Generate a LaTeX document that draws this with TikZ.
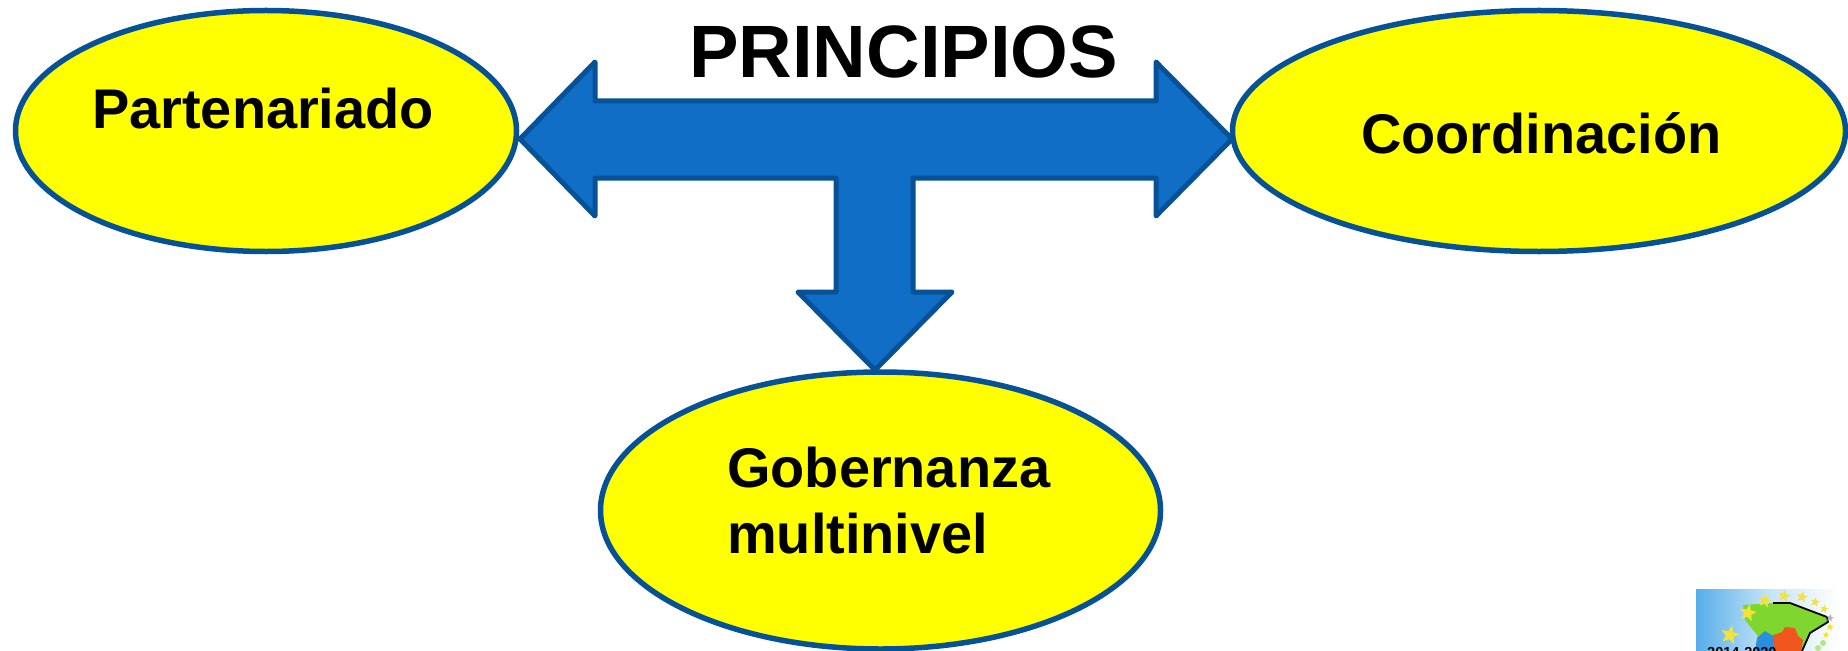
\documentclass[tikz,border=0pt]{standalone}
\usepackage{fontspec}
\setmainfont{Liberation Sans}
\usetikzlibrary{shapes.geometric,shapes.misc}
\definecolor{edgeblue}{HTML}{075296}
\definecolor{fillblue}{HTML}{116EC6}
\definecolor{yel}{HTML}{FFFF00}
\definecolor{skyb}{HTML}{55AEEA}
\definecolor{logogreen}{HTML}{7FD62E}
\definecolor{logoorange}{HTML}{F0561E}
\definecolor{logoblue}{HTML}{2A8FDC}
\definecolor{logostarc}{HTML}{F2E23A}
\tikzset{
 x=1bp,y=-1bp,
 oval/.style={ellipse,draw=edgeblue,line width=5.5bp,fill=yel,inner sep=0pt,outer sep=0pt},
 lab/.style={anchor=base west,inner sep=0pt,font=\fontsize{55.9bp}{66bp}\selectfont\bfseries},
 title/.style={anchor=base west,inner sep=0pt,font=\fontsize{74.2bp}{80bp}\selectfont\bfseries},
 arrowshape/.style={draw=edgeblue,line width=5bp,fill=fillblue,line join=round},
 logostar/.style={star,star points=5,star point ratio=2.4,fill=#1,inner sep=0pt,draw=none,rotate=-12},
}
\begin{document}
\begin{tikzpicture}
\useasboundingbox (0,0) rectangle (1848,651);
\fill[white] (0,0) rectangle (1848,651);
\node[oval,minimum width=501bp,minimum height=241bp] (part) at (266,131) {};
\node[oval,minimum width=613bp,minimum height=241bp] (coord) at (1539,131) {};
\node[oval,minimum width=560bp,minimum height=277bp] (gob) at (880.5,510.5) {};
\draw[arrowshape] (520,139) -- (595,62) -- (595,101) -- (1156,101) -- (1156,62) -- (1232,139)
  -- (1156,216) -- (1156,178) -- (913,178) -- (913,292) -- (952,292) -- (875,370)
  -- (798,292) -- (836,292) -- (836,178) -- (595,178) -- (595,216) -- cycle;
\node[title] (t) at (689,78) {PRINCIPIOS};
\node[lab] (l1) at (92,129) {Partenariado};
\node[lab] (l2) at (1361,154) {Coordinación};
\node[lab] (l3) at (727,487) {Gobernanza};
\node[lab] (l4) at (727,553.5) {multinivel};
\begin{scope}
\clip (1696,589) rectangle (1838,651);
\shade[left color=skyb,right color=white,middle color=skyb!35] (1696,589) rectangle (1838,651);
\fill[logogreen] (1743,605) -- (1773,603) -- (1790,603) -- (1827,617) -- (1828,622) -- (1810,633) -- (1802,651) -- (1760,651) -- (1757,635) -- (1745,620) -- cycle;
\draw[black,line width=1.8bp,line join=round] (1773,603) -- (1790,603) -- (1827,617) -- (1828,622) -- (1810,633) -- (1802,651);
\fill[logoorange] (1773,651) -- (1773,635) -- (1782,632) -- (1785,627) -- (1795,628) -- (1798,636) -- (1803,640) -- (1801,651) -- cycle;
\fill[logoblue] (1755,651) -- (1757,638) -- (1765,631) -- (1773,636) -- (1773,651) -- cycle;
\fill[logogreen!60] (1823,643) circle (3bp);
\fill[logogreen!60] (1818,648) circle (3bp);
\node[logostar=logostarc,minimum size=20bp] (s1) at (1730,635) {};
\node[logostar=logostarc,minimum size=18bp] (s2) at (1748,613) {};
\node[logostar=logostarc,minimum size=14bp] (s3) at (1765,601) {};
\node[logostar=logostarc,minimum size=13bp] (s4) at (1784,596) {};
\node[logostar=logostarc,minimum size=12bp] (s5) at (1802,597) {};
\node[logostar=logostarc,minimum size=10bp] (s6) at (1815,602) {};
\node[logostar=logostarc,minimum size=9bp] (s7) at (1824,609) {};
\node[logostar=gray!60,minimum size=8bp] (s8) at (1830,618) {};
\node[logostar=logostarc,minimum size=8bp] (s9) at (1830,627) {};
\node[logostar=logostarc,minimum size=7bp] (s10) at (1826,635) {};
\node[anchor=base west,inner sep=0pt,font=\fontsize{14.5bp}{15bp}\selectfont\bfseries] (yr) at (1707,657) {2014-2020};
\end{scope}
\end{tikzpicture}
\end{document}
